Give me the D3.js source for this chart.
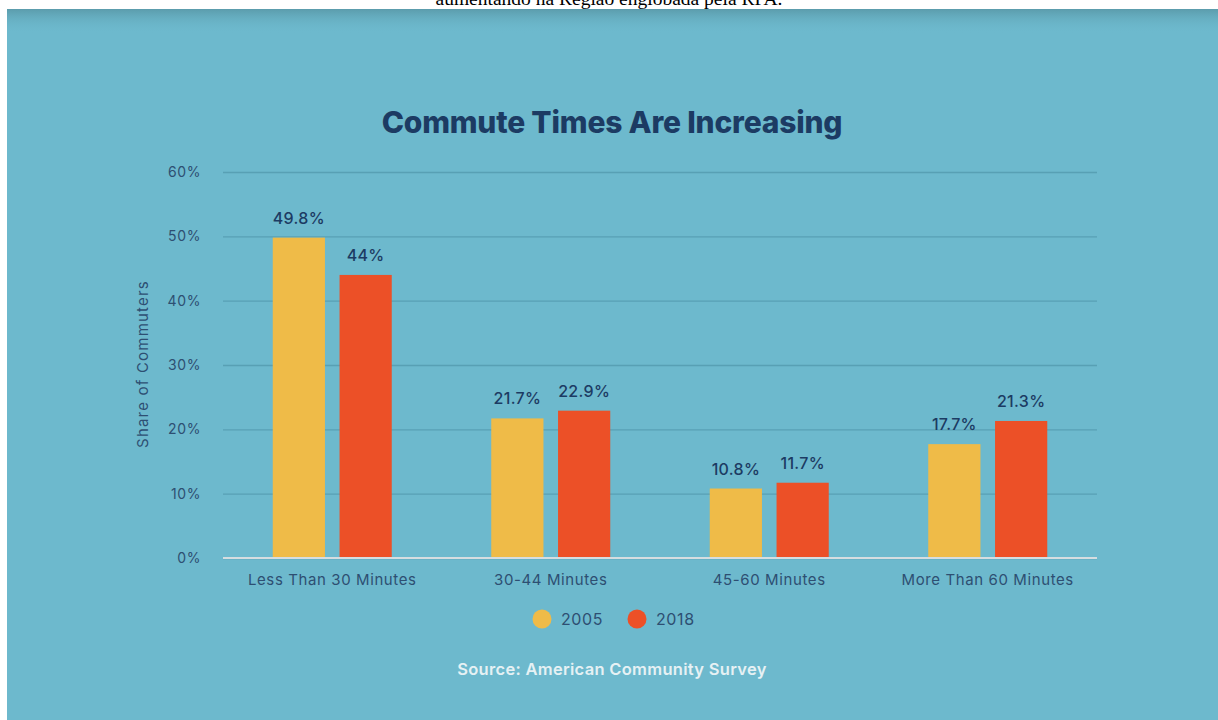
<!DOCTYPE html>
<html>
<head>
<meta charset="utf-8">
<script src="https://cdn.jsdelivr.net/npm/d3@7"></script>
<style>
  html, body { margin: 0; padding: 0; background: #ffffff; }
  svg { display: block; }
</style>
</head>
<body>
<svg id="chart" width="1218" height="720"></svg>
<script>
// Commute time shares, 2005 vs 2018
const categories = ["Less Than 30 Minutes", "30-44 Minutes", "45-60 Minutes", "More Than 60 Minutes"];
const years = ["2005", "2018"];
const values2005 = [49.8, 21.7, 10.8, 17.7];
const values2018 = [44, 22.9, 11.7, 21.3];
const valueLabels2005 = ["49.8%", "21.7%", "10.8%", "17.7%"];
const valueLabels2018 = ["44%", "22.9%", "11.7%", "21.3%"];
const yTicks = [0, 10, 20, 30, 40, 50, 60];

const colors = { "2005": "#efbb48", "2018": "#ec5027" };
const navy = "#1c3b63";
const tickColor = "#2e4f72";
const font = "Inter, sans-serif";

const svg = d3.select("#chart");
const W = 1218, H = 720;

// caption line above the panel (partly hidden by it)
svg.append("text")
  .attr("x", 609).attr("y", 5)
  .attr("text-anchor", "middle")
  .attr("font-family", "Liberation Serif, Times New Roman, serif")
  .attr("font-size", 19.5)
  .attr("fill", "#000")
  .text("aumentando na Região englobada pela RPA.");

// panel
const defs = svg.append("defs");
const grad = defs.append("linearGradient").attr("id", "topShade")
  .attr("x1", 0).attr("y1", 0).attr("x2", 0).attr("y2", 1);
grad.append("stop").attr("offset", "0%").attr("stop-color", "#5b9cac").attr("stop-opacity", 1);
grad.append("stop").attr("offset", "100%").attr("stop-color", "#6db9cd").attr("stop-opacity", 0);

svg.append("rect").attr("x", 7).attr("y", 9).attr("width", W - 7).attr("height", H - 9)
  .attr("fill", "#6db9cd");
svg.append("rect").attr("x", 7).attr("y", 9).attr("width", W - 7).attr("height", 24)
  .attr("fill", "url(#topShade)");

const plot = { left: 223, right: 1097, top: 172, bottom: 558 };

const x0 = d3.scaleBand().domain(categories).range([plot.left, plot.right]).padding(0);
const x1 = d3.scaleBand().domain(years).range([-59.5, 59.5]).paddingInner(13 / 119 * 2).paddingOuter(0);
const y = d3.scaleLinear().domain([0, 60]).range([plot.bottom, plot.top]);

// title
svg.append("text")
  .attr("x", 612).attr("y", 133)
  .attr("text-anchor", "middle")
  .attr("font-family", font)
  .attr("font-weight", 800)
  .attr("font-size", 30)
  .attr("letter-spacing", -0.2)
  .attr("fill", navy)
  .text("Commute Times Are Increasing");

// gridlines and y tick labels
const yAxis = d3.axisLeft(y).tickValues(yTicks).tickFormat(d => d + "%")
  .tickSize(-(plot.right - plot.left)).tickPadding(22);
const gy = svg.append("g").attr("transform", `translate(${plot.left},0)`).call(yAxis);
gy.select(".domain").remove();
gy.selectAll(".tick line").attr("stroke", "#58a0b4").attr("stroke-width", 1.3);
gy.selectAll(".tick text")
  .attr("font-family", font)
  .attr("font-size", 14)
  .attr("letter-spacing", 0.6)
  .attr("fill", tickColor);

// baseline
svg.append("line")
  .attr("x1", plot.left).attr("x2", plot.right)
  .attr("y1", y(0)).attr("y2", y(0))
  .attr("stroke", "#d5dde0").attr("stroke-width", 2);

// y axis title
svg.append("text")
  .attr("transform", `translate(148,${(plot.top + plot.bottom) / 2 - 1}) rotate(-90)`)
  .attr("text-anchor", "middle")
  .attr("font-family", font)
  .attr("font-size", 15)
  .attr("letter-spacing", 1.2)
  .attr("fill", tickColor)
  .text("Share of Commuters");

// bars
const rows = categories.map((c, i) => ({
  category: c,
  items: [
    { year: "2005", value: values2005[i], label: valueLabels2005[i] },
    { year: "2018", value: values2018[i], label: valueLabels2018[i] }
  ]
}));

const groups = svg.append("g").selectAll("g").data(rows).join("g")
  .attr("transform", d => `translate(${x0(d.category) + x0.bandwidth() / 2},0)`);

groups.selectAll("rect").data(d => d.items).join("rect")
  .attr("x", d => x1(d.year))
  .attr("width", x1.bandwidth())
  .attr("y", d => y(d.value))
  .attr("height", d => y(0) - 1 - y(d.value))
  .attr("fill", d => colors[d.year]);

groups.selectAll("text.val").data(d => d.items).join("text")
  .attr("class", "val")
  .attr("x", d => x1(d.year) + x1.bandwidth() / 2)
  .attr("y", d => y(d.value) - 14)
  .attr("text-anchor", "middle")
  .attr("font-family", font)
  .attr("font-size", 16)
  .attr("font-weight", 500)
  .attr("letter-spacing", 0.3)
  .attr("fill", navy)
  .text(d => d.label);

// category labels
const xAxis = d3.axisBottom(x0).tickSize(0).tickPadding(16);
const gx = svg.append("g").attr("transform", `translate(0,${plot.bottom})`).call(xAxis);
gx.select(".domain").remove();
gx.selectAll(".tick text")
  .attr("font-family", font)
  .attr("font-size", 15)
  .attr("letter-spacing", 0.6)
  .attr("fill", tickColor);

// legend
const legendItems = [
  { year: "2005", cx: 542 },
  { year: "2018", cx: 637 }
];
const lg = svg.append("g").selectAll("g").data(legendItems).join("g");
lg.append("circle").attr("cx", d => d.cx).attr("cy", 619).attr("r", 9.5)
  .attr("fill", d => colors[d.year]);
lg.append("text").attr("x", d => d.cx + 19).attr("y", 625)
  .attr("font-family", font)
  .attr("font-size", 16)
  .attr("letter-spacing", 0.6)
  .attr("fill", tickColor)
  .text(d => d.year);

// source note
svg.append("text")
  .attr("x", 612).attr("y", 675)
  .attr("text-anchor", "middle")
  .attr("font-family", font)
  .attr("font-weight", 600)
  .attr("font-size", 16.5)
  .attr("letter-spacing", 0.3)
  .attr("fill", "#e6f1f4")
  .text("Source: American Community Survey");
</script>
</body>
</html>
